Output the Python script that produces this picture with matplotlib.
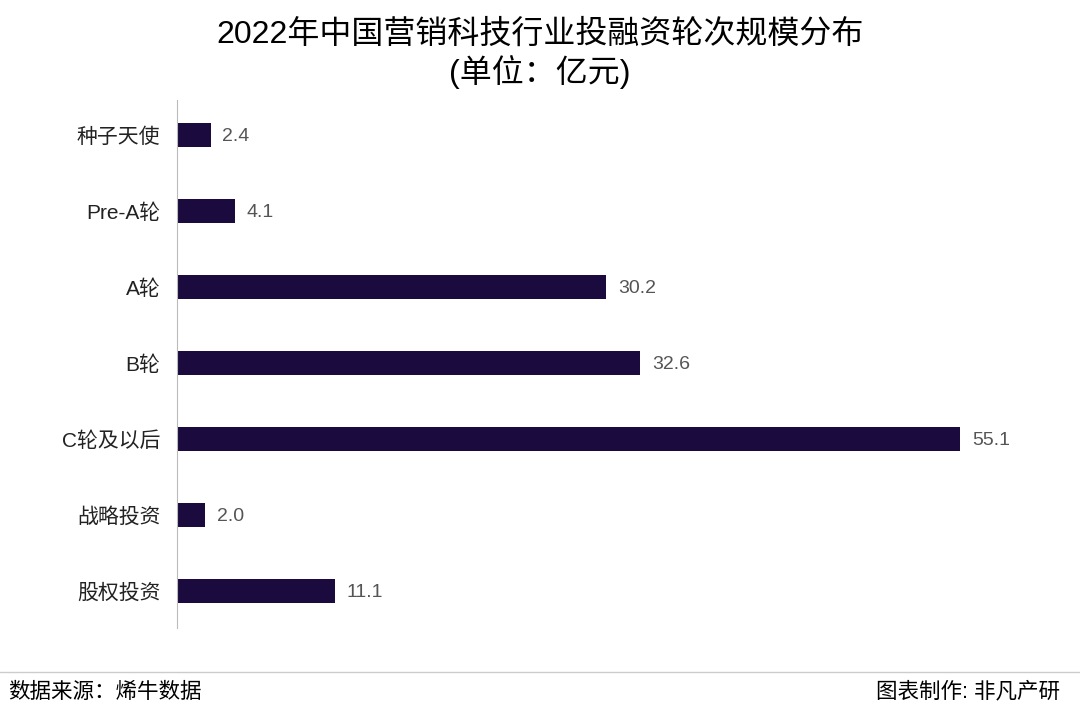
import matplotlib
matplotlib.use("Agg")
import matplotlib.pyplot as plt

plt.rcParams['font.family'] = ['Liberation Sans', 'Noto Sans CJK SC', 'DejaVu Sans']

categories = ["种子天使", "Pre-A轮", "A轮", "B轮", "C轮及以后", "战略投资", "股权投资"]
values = [2.4, 4.1, 30.2, 32.6, 55.1, 2.0, 11.1]

W, H = 1080, 713
fig = plt.figure(figsize=(W/100, H/100), dpi=100)
ax = fig.add_axes([177/W, 1-628/H, (1040-177)/W, (628-100)/H])
y = list(range(len(categories)))
ax.barh(y, values, height=0.32, color="#1b0a3e")
ax.set_ylim(len(categories)-1+0.49, -0.46)
ax.set_xlim(0, 60.7)
for yi, v in zip(y, values):
    ax.text(v + 0.8, yi + 0.02, f"{v:.1f}", va="center", ha="left", fontsize=14, color="#555555")
ax.set_yticks(y)
ax.set_yticklabels(categories, fontsize=15, color="#222222")
ax.tick_params(axis="y", length=0, pad=12)
ax.set_xticks([])
for s in ["top", "right", "bottom"]:
    ax.spines[s].set_visible(False)
ax.spines["left"].set_color("#bbbbbb")

fig.text(0.5, 1-35/H, "2022年中国营销科技行业投融资轮次规模分布", ha="center", va="center", fontsize=23)
fig.text(0.5, 1-72/H, "(单位：亿元)", ha="center", va="center", fontsize=23)
fig.add_artist(plt.Line2D([0, 1], [1-672/H, 1-672/H], color="#cccccc", lw=1))
fig.text(8/W, 1-692/H, "数据来源：烯牛数据", ha="left", va="center", fontsize=15.5)
fig.text(1-20/W, 1-692/H, "图表制作: 非凡产研", ha="right", va="center", fontsize=15.5)
fig.savefig("out.png", dpi=100)
